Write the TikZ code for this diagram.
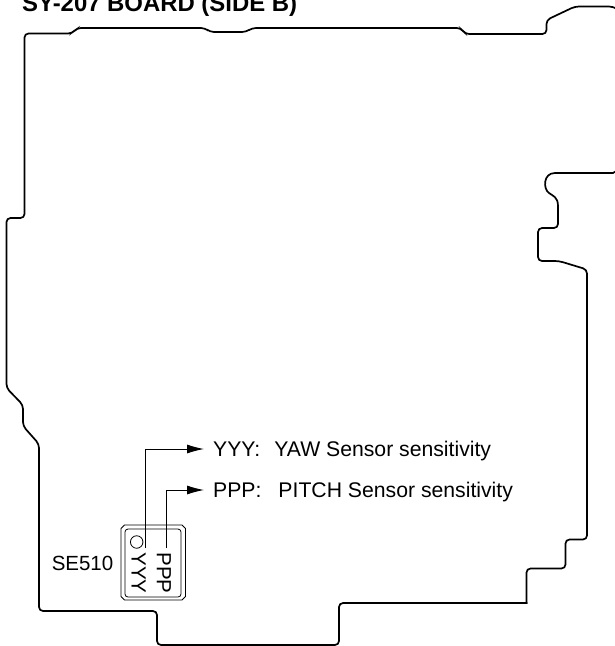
\documentclass[tikz,border=0pt]{standalone}
\usepackage{fontspec}
\setmainfont{Liberation Sans}
\usetikzlibrary{calc, arrows.meta}
\tikzset{>={Latex[length=17pt,width=9pt]}}
\tikzset{
    boardline/.style={line width=1.7pt, line cap=rect, rounded corners=4pt},
    chipline/.style={line width=0.8pt},
    leadline/.style={line width=0.9pt},
    sensorlabel/.style={anchor=west, inner xsep=9pt, inner ysep=0pt, text height=15pt, text depth=0pt, font=\fontsize{21.2}{21.2}\selectfont},
    chiptext/.style={rotate=-90, inner sep=0pt, font=\fontsize{20.5}{20.5}\selectfont}
}

\begin{document}
\begin{tikzpicture}[x=1pt, y=-1pt]
    \useasboundingbox (0,0) rectangle (615,646);

    %title
    \node[anchor=base west, inner sep=0pt, font=\fontsize{23.9}{23.9}\selectfont\bfseries] (title) at (22,11.5) {SY-207 BOARD (SIDE B)};

    %board outline, upper part
    \draw[boardline]
        (615.5,8) -- (613,6.5) -- (575,6.5) -- (546.5,20) -- (546.5,34) -- (465,34) -- (461,28)
        -- (252,28) -- (246,32) -- (210,32) -- (205,28) -- (77,28) -- (72,33.5)
        -- (24.5,33.5) -- (24.5,218) -- (6.5,218) -- (6.5,388) -- (23,405) -- (23,426)
        -- (39,444) -- (39,611) -- (157,611) -- (157,645) -- (339,645) -- (339,603)
        -- (526.5,603);

    %board outline, steps on the right
    \draw[boardline]
        (526.5,603) -- (526.5,568.5) -- (565.5,568.5) -- (565.5,539.5) -- (587,539.5)
        -- (587,269.5) -- (559,261) -- (538,261) -- (538,228) -- (558,228) -- (558,206);
    \draw[line width=1.7pt]
        (558,206) .. controls (558,197) and (553,196) .. (549,193)
        .. controls (543,189) and (543,173) .. (555,173) -- (613,173) -- (615.5,171.5);

    %sensor package
    \draw[chipline] (124.5,525) -- (182,525) -- (185.5,528.5) -- (185.5,596.5) -- (182,600)
        -- (124.5,600) -- (121,596.5) -- (121,528.5) -- cycle;
    \draw[chipline, rounded corners=3pt] (125,529) rectangle (181,597);
    \node[draw, circle, chipline, minimum size=12.5pt, inner sep=0pt] (dot) at (136.7,542) {};
    \node[chiptext] (yyy) at (138.7,573) {YYY};
    \node[chiptext] (ppp) at (164,573) {PPP};
    \node[anchor=east, inner sep=0pt, font=\fontsize{20.5}{20.5}\selectfont] (se) at (113.5,563) {SE510};

    %labels and their leads
    \node[sensorlabel] (yyylabel) at (204,449) {YYY:\hspace{14pt}YAW Sensor sensitivity};
    \node[sensorlabel] (ppplabel) at (204,490) {PPP:\hspace{17pt}PITCH Sensor sensitivity};
    \coordinate (yyyend) at (145,548);
    \coordinate (pppend) at (166,548);
    \draw[leadline, ->] (yyyend) |- (yyylabel.west);
    \draw[leadline, ->] (pppend) |- (ppplabel.west);
\end{tikzpicture}
\end{document}
